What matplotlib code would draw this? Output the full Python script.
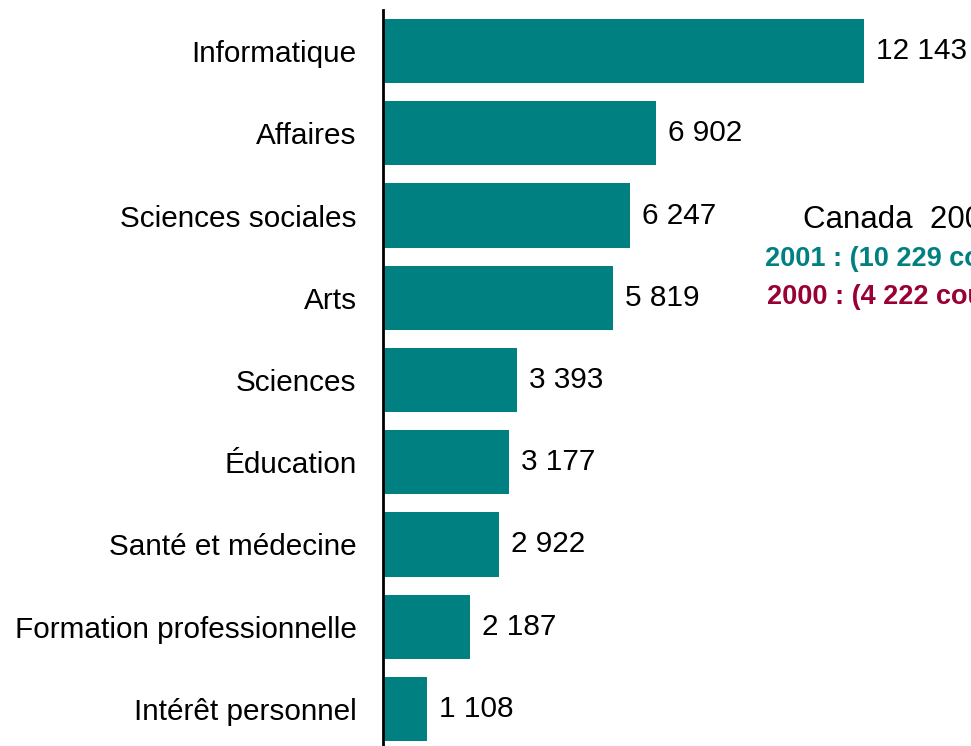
import matplotlib.pyplot as plt

plt.rcParams['font.family'] = ['Liberation Sans', 'DejaVu Sans']

categories = ['Informatique', 'Affaires', 'Sciences sociales', 'Arts', 'Sciences',
              'Éducation', 'Santé et médecine', 'Formation professionnelle',
              'Intérêt personnel']
values = [12143, 6902, 6247, 5819, 3393, 3177, 2922, 2187, 1108]
value_labels = ['12 143', '6 902', '6 247', '5 819', '3 393', '3 177', '2 922',
                '2 187', '1 108']

title_text = 'Canada  2001'
line_2001 = '2001 : (10 229 cours)'
line_2000 = '2000 : (4 222 cours)'

teal = '#008080'
maroon = '#990033'

fig = plt.figure(figsize=(9.71, 7.46), dpi=100)
ax = fig.add_axes([383 / 971, -4 / 746, 588 / 971, 740 / 746])

y = list(range(len(categories)))
ax.barh(y, values, height=0.78, color=teal)
ax.set_ylim(len(categories) - 0.5, -0.5)
ax.set_xlim(0, 588 / 481 * 12143)

for yi, v, lab in zip(y, values, value_labels):
    ax.text(v + 300, yi, lab, va='center', ha='left', fontsize=21.4, color='black')

ax.set_yticks(y)
ax.set_yticklabels(categories, fontsize=21.4)
ax.tick_params(axis='y', length=0, pad=19)
ax.set_xticks([])
for s in ['top', 'right', 'bottom']:
    ax.spines[s].set_visible(False)
ax.spines['left'].set_linewidth(2)
ax.spines['left'].set_color('black')

# texte coupé au bord droit, comme dans l'original
fig.text(803 / 971, 1 - 220 / 746, title_text, fontsize=22.5, va='center', ha='left')
fig.text(765 / 971, 1 - 259 / 746, line_2001, fontsize=19.5, fontweight='bold',
         color=teal, va='center', ha='left')
fig.text(767 / 971, 1 - 297 / 746, line_2000, fontsize=19.5, fontweight='bold',
         color=maroon, va='center', ha='left')

fig.savefig('out.png', dpi=100)
